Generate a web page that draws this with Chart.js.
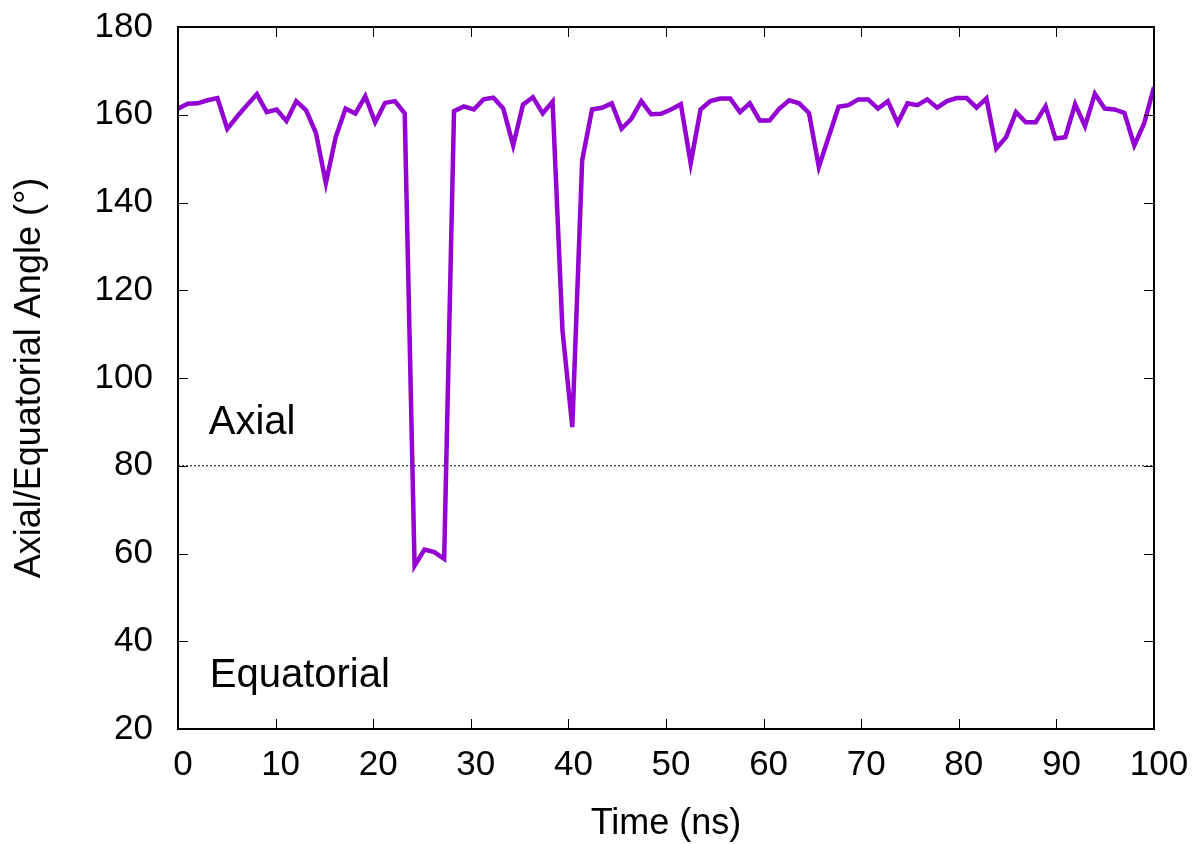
<!DOCTYPE html>
<html>
<head>
<meta charset="utf-8">
<script src="https://cdn.jsdelivr.net/npm/chart.js@4/dist/chart.umd.min.js"></script>
<style>
  html, body { margin: 0; padding: 0; background: #fff; }
  #wrap { width: 1195px; height: 844px; }
</style>
</head>
<body>
<div id="wrap"><canvas id="c"></canvas></div>
<script>
// ---- data ------------------------------------------------------------
const TIME = [
    0, 1.01, 2.02, 3.03, 4.04, 5.05, 6.06, 7.07, 8.08, 9.09,
    10.10, 11.11, 12.12, 13.13, 14.14, 15.15, 16.16, 17.17, 18.18, 19.19,
    20.20, 21.21, 22.22, 23.23, 24.24, 25.25, 26.26, 27.27, 28.28, 29.29,
    30.30, 31.31, 32.32, 33.33, 34.34, 35.35, 36.36, 37.37, 38.38, 39.39,
    40.40, 41.41, 42.42, 43.43, 44.44, 45.45, 46.46, 47.47, 48.48, 49.49,
    50.51, 51.52, 52.53, 53.54, 54.55, 55.56, 56.57, 57.58, 58.59, 59.60,
    60.61, 61.62, 62.63, 63.64, 64.65, 65.66, 66.67, 67.68, 68.69, 69.70,
    70.71, 71.72, 72.73, 73.74, 74.75, 75.76, 76.77, 77.78, 78.79, 79.80,
    80.81, 81.82, 82.83, 83.84, 84.85, 85.86, 86.87, 87.88, 88.89, 89.90,
    90.91, 91.92, 92.93, 93.94, 94.95, 95.96, 96.97, 97.98, 98.99, 100
];
const ANGLE = [
    161.4, 162.5, 162.6, 163.3, 163.8, 156.8, 159.6, 162.2, 164.7, 160.6,
    161.2, 158.6, 163.1, 161.0, 155.8, 144.4, 154.9, 161.4, 160.3, 164.2,
    158.3, 162.7, 163.1, 160.3, 57.2, 60.9, 60.3, 58.8, 160.8, 161.9,
    161.2, 163.5, 163.9, 161.4, 153.0, 162.3, 164.0, 160.3, 163.0, 110.9,
    88.8, 149.6, 161.2, 161.6, 162.6, 156.8, 159.1, 163.1, 160.1, 160.2,
    161.2, 162.4, 148.9, 161.2, 163.1, 163.7, 163.7, 160.6, 162.6, 158.7,
    158.7, 161.4, 163.3, 162.6, 160.4, 148.1, 155.0, 161.8, 162.2, 163.5,
    163.5, 161.4, 163.1, 158.1, 162.6, 162.2, 163.5, 161.6, 163.1, 163.8,
    163.8, 161.6, 163.7, 152.3, 154.9, 160.6, 158.3, 158.3, 161.9, 154.6,
    154.9, 162.4, 157.4, 164.8, 161.4, 161.2, 160.4, 153.0, 158.0, 166.3
];
const THRESHOLD = 80;
const X_RANGE = [0, 100];
const Y_RANGE = [20, 180];
const REGION_LABELS = [
    { text: 'Axial', x: 3.15, y: 87.3 },
    { text: 'Equatorial', x: 3.25, y: 29.6 },
];

const FONT = "'Liberation Sans', Arial, Helvetica, sans-serif";
const TICK = 10;

// frame + inward ticks on all four sides (gnuplot look)
const framePlugin = {
    id: 'frame',
    afterDatasetsDraw(chart) {
        const { ctx, chartArea: a, scales: { x, y } } = chart;
        ctx.save();
        ctx.strokeStyle = '#000';
        ctx.lineWidth = 1;
        ctx.beginPath();
        x.ticks.forEach(t => {
            const px = Math.round(x.getPixelForValue(t.value)) + 0.5;
            ctx.moveTo(px, a.bottom); ctx.lineTo(px, a.bottom - TICK);
            ctx.moveTo(px, a.top); ctx.lineTo(px, a.top + TICK);
        });
        y.ticks.forEach(t => {
            const py = Math.round(y.getPixelForValue(t.value)) + 0.5;
            ctx.moveTo(a.left, py); ctx.lineTo(a.left + TICK, py);
            ctx.moveTo(a.right, py); ctx.lineTo(a.right - TICK, py);
        });
        ctx.stroke();
        ctx.lineWidth = 2;
        ctx.strokeRect(a.left, a.top, a.right - a.left, a.bottom - a.top);

        ctx.fillStyle = '#000';
        ctx.font = `40px ${FONT}`;
        ctx.textAlign = 'left';
        ctx.textBaseline = 'alphabetic';
        REGION_LABELS.forEach(l => {
            ctx.fillText(l.text, x.getPixelForValue(l.x), y.getPixelForValue(l.y));
        });
        ctx.restore();
    }
};

Chart.defaults.font.family = FONT;
Chart.defaults.color = '#000';

new Chart(document.getElementById('c'), {
    type: 'line',
    data: {
        datasets: [
            {
                label: 'angle',
                data: TIME.map((t, i) => ({ x: t, y: ANGLE[i] })),
                borderColor: '#9400d3',
                borderWidth: 4.5,
                borderJoinStyle: 'miter',
                pointRadius: 0,
                tension: 0,
                fill: false,
            },
            {
                label: 'threshold',
                data: X_RANGE.map(t => ({ x: t, y: THRESHOLD })),
                borderColor: '#000',
                borderWidth: 1,
                borderDash: [2, 2],
                pointRadius: 0,
                fill: false,
            }
        ]
    },
    options: {
        responsive: true,
        maintainAspectRatio: false,
        animation: false,
        layout: { padding: { top: 27, right: 41, left: 0, bottom: 0 } },
        plugins: {
            legend: { display: false },
            tooltip: { enabled: false },
        },
        scales: {
            x: {
                type: 'linear',
                min: X_RANGE[0],
                max: X_RANGE[1],
                grid: { display: false, drawTicks: false },
                border: { display: false },
                ticks: { stepSize: 10, font: { size: 35 }, padding: 15, labelOffset: 5, color: '#000' },
                title: { display: true, text: 'Time (ns)', font: { size: 36 }, padding: { top: 0, bottom: -2 }, color: '#000' },
                afterFit: s => { s.height = 115; s.paddingLeft = 0; s.paddingRight = 0; },
            },
            y: {
                min: Y_RANGE[0],
                max: Y_RANGE[1],
                grid: { display: false, drawTicks: false },
                border: { display: false },
                ticks: { stepSize: 20, font: { size: 35 }, padding: 25, color: '#000' },
                title: { display: true, text: 'Axial/Equatorial Angle (°)', font: { size: 36 }, padding: { top: 8, bottom: 0 }, color: '#000' },
                afterFit: s => { s.width = 178; s.paddingTop = 0; s.paddingBottom = 0; },
            }
        }
    },
    plugins: [framePlugin]
});
</script>
</body>
</html>
